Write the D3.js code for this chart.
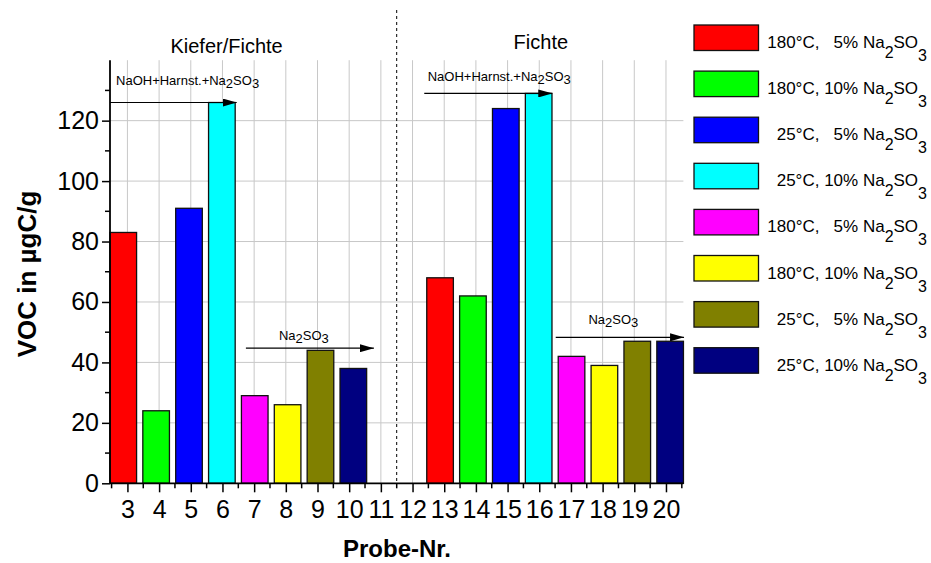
<!DOCTYPE html>
<html>
<head>
<meta charset="utf-8">
<script src="https://cdn.jsdelivr.net/npm/d3@7"></script>
<style>
  html, body { margin: 0; padding: 0; background: #fff; }
  svg { display: block; font-family: "Liberation Sans", Arial, sans-serif; }
  text { white-space: pre; }
</style>
</head>
<body>
<svg id="chart" width="931" height="563"></svg>
<script>
// Sample numbers on the x axis
const xTicks = d3.range(3, 21);
const xMinorTicks = d3.range(2.5, 21, 1);
// VOC axis ticks (µgC/g)
const yTicks = [0, 20, 40, 60, 80, 100, 120];
const yMinorTicks = [10, 30, 50, 70, 90, 110, 130];

// Wood groups and where each group of eight columns is centred
const groupNames = ["Kiefer/Fichte", "Fichte"];
const groupCenters = [6.5, 16.5];

// Eight treatment series (legend order)
const seriesTemp = ["180°C,   5%", "180°C, 10%", "25°C,   5%", "25°C, 10%",
                    "180°C,   5%", "180°C, 10%", "25°C,   5%", "25°C, 10%"];
const seriesColors = ["#ff0000", "#00ff00", "#0000ff", "#00ffff",
                      "#ff00ff", "#ffff00", "#808000", "#000080"];

// VOC in µgC/g per series for each wood group
const kieferValues = [83, 24, 91, 126, 29, 26, 44, 38];
const fichteValues = [68, 62, 124, 129, 42, 39, 47, 47];

// Treatment annotations: arrow from x0 to x1 at height y, label anchored at (lx, ly)
const annotations = [
  { parts: [["NaOH+Harnst.+Na"], ["2", 1], ["SO"], ["3", 1]], x0: 2.45, x1: 6.45, y: 126, lx: 2.64, ly: 131.8, anchor: "start" },
  { parts: [["NaOH+Harnst.+Na"], ["2", 1], ["SO"], ["3", 1]], x0: 12.37, x1: 16.41, y: 129, lx: 12.48, ly: 133.1, anchor: "start" },
  { parts: [["Na"], ["2", 1], ["SO"], ["3", 1]], x0: 6.74, x1: 10.78, y: 44.7, lx: 8.57, ly: 47.4, anchor: "middle" },
  { parts: [["Na"], ["2", 1], ["SO"], ["3", 1]], x0: 16.52, x1: 20.57, y: 48.3, lx: 18.34, ly: 52.7, anchor: "middle" }
];
const groupTitleX = [6.13, 16.05];
const separatorX = 11.5;

const svg = d3.select("#chart");
const W = 931, H = 563;
svg.append("rect").attr("width", W).attr("height", H).attr("fill", "#fff");

const x = d3.scaleLinear().domain([2.45, 20.55]).range([110, 683.4]);
const y = d3.scaleLinear().domain([0, 140]).range([483.3, 60.2]);

const plot = svg.append("g");

// grid
plot.append("g").selectAll("line").data(xTicks).join("line")
  .attr("x1", d => x(d)).attr("x2", d => x(d))
  .attr("y1", y(140)).attr("y2", y(0))
  .attr("stroke", "#c8c8c8").attr("stroke-width", 1);
plot.append("g").selectAll("line").data(yTicks.filter(d => d > 0)).join("line")
  .attr("x1", x(2.45)).attr("x2", x(20.55))
  .attr("y1", d => y(d)).attr("y2", d => y(d))
  .attr("stroke", "#c8c8c8").attr("stroke-width", 1);

// columns
const inner = d3.scaleBand().domain(d3.range(seriesTemp.length))
  .range([-4.15, 4.15]).paddingInner(0.19).paddingOuter(0.095);
const groupValues = [kieferValues, fichteValues];
const bars = [];
groupValues.forEach((vals, gi) => {
  vals.forEach((v, si) => bars.push({ g: gi, s: si, v }));
});
plot.append("g").selectAll("rect").data(bars).join("rect")
  .attr("x", d => x(groupCenters[d.g] + inner(d.s)))
  .attr("width", d => x(groupCenters[d.g] + inner(d.s) + inner.bandwidth()) - x(groupCenters[d.g] + inner(d.s)))
  .attr("y", d => y(d.v))
  .attr("height", d => y(0) - y(d.v))
  .attr("fill", d => seriesColors[d.s])
  .attr("stroke", "#111").attr("stroke-width", 1.3);

// separator between wood groups
svg.append("line")
  .attr("x1", x(separatorX)).attr("x2", x(separatorX))
  .attr("y1", 10).attr("y2", y(0))
  .attr("stroke", "#000").attr("stroke-width", 1).attr("stroke-dasharray", "3,3");

// axes
const xAxis = d3.axisBottom(x).tickValues(xTicks).tickSize(9).tickPadding(8).tickFormat(d3.format("d"));
const gx = svg.append("g").attr("transform", `translate(0,${y(0)})`).call(xAxis);
gx.append("g").selectAll("line").data(xMinorTicks).join("line")
  .attr("x1", d => x(d)).attr("x2", d => x(d)).attr("y1", 0).attr("y2", 5)
  .attr("stroke", "#000").attr("stroke-width", 1.5);

const yAxis = d3.axisLeft(y).tickValues(yTicks).tickSize(8).tickPadding(3);
const gy = svg.append("g").attr("transform", `translate(${x(2.45)},0)`).call(yAxis);
gy.append("g").selectAll("line").data(yMinorTicks).join("line")
  .attr("x1", -5).attr("x2", 0).attr("y1", d => y(d)).attr("y2", d => y(d))
  .attr("stroke", "#000").attr("stroke-width", 1.5);

[gx, gy].forEach(g => {
  g.select(".domain").attr("stroke", "#000").attr("stroke-width", 1.8);
  g.selectAll(".tick line").attr("stroke", "#000").attr("stroke-width", 1.5);
  g.selectAll(".tick text").attr("font-family", "Liberation Sans, Arial, sans-serif")
    .attr("font-size", 25).attr("fill", "#000");
});
// no end caps on the axis domains
gx.select(".domain").attr("d", `M${x(2.45)},0H${x(20.55)}`);
gy.select(".domain").attr("d", `M0,${y(140)}V${y(0)}`);

// axis titles
svg.append("text")
  .attr("transform", `translate(36,274) rotate(-90)`)
  .attr("text-anchor", "middle").attr("font-size", 26).attr("font-weight", "bold")
  .text("VOC in µgC/g");
svg.append("text")
  .attr("x", 397).attr("y", 557)
  .attr("text-anchor", "middle").attr("font-size", 24).attr("font-weight", "bold")
  .text("Probe-Nr.");

// group titles
svg.append("text").attr("x", x(groupTitleX[0])).attr("y", 53)
  .attr("text-anchor", "middle").attr("font-size", 20).text(groupNames[0]);
svg.append("text").attr("x", x(groupTitleX[1])).attr("y", 49)
  .attr("text-anchor", "middle").attr("font-size", 20).text(groupNames[1]);

// arrow marker
const defs = svg.append("defs");
defs.append("marker").attr("id", "arrow")
  .attr("viewBox", "0 0 14 8").attr("refX", 14).attr("refY", 4)
  .attr("markerWidth", 14).attr("markerHeight", 8).attr("markerUnits", "userSpaceOnUse")
  .attr("orient", "auto")
  .append("path").attr("d", "M0,0L14,4L0,8Z").attr("fill", "#000");

function subText(sel, parts, subSize, subShift) {
  let shift = 0;
  parts.forEach(p => {
    const t = sel.append("tspan").text(p[0]);
    if (p[1]) {
      t.attr("font-size", subSize).attr("dy", subShift);
      shift += subShift;
    } else if (shift) {
      t.attr("dy", -shift);
      shift = 0;
    }
  });
}

const ann = svg.append("g");
annotations.forEach(a => {
  ann.append("line")
    .attr("x1", x(a.x0)).attr("x2", x(a.x1)).attr("y1", y(a.y)).attr("y2", y(a.y))
    .attr("stroke", "#000").attr("stroke-width", 1.2).attr("marker-end", "url(#arrow)");
  const t = ann.append("text").attr("x", x(a.lx)).attr("y", y(a.ly))
    .attr("text-anchor", a.anchor).attr("font-size", 13);
  subText(t, a.parts, 13, 3);
});

// legend
const legend = svg.append("g");
seriesTemp.forEach((lab, i) => {
  const top = 25 + 46.1 * i;
  legend.append("rect").attr("x", 694).attr("y", top).attr("width", 64.5).attr("height", 25.5)
    .attr("fill", seriesColors[i]).attr("stroke", "#111").attr("stroke-width", 1.3);
  const t = legend.append("text").attr("x", 927).attr("y", top + 23)
    .attr("text-anchor", "end").attr("font-size", 17);
  t.append("tspan").text(lab + " Na");
  t.append("tspan").text("2").attr("font-size", 16).attr("dy", 10);
  t.append("tspan").text("SO").attr("dy", -10);
  t.append("tspan").text("3").attr("font-size", 16).attr("dy", 13);
});
</script>
</body>
</html>
